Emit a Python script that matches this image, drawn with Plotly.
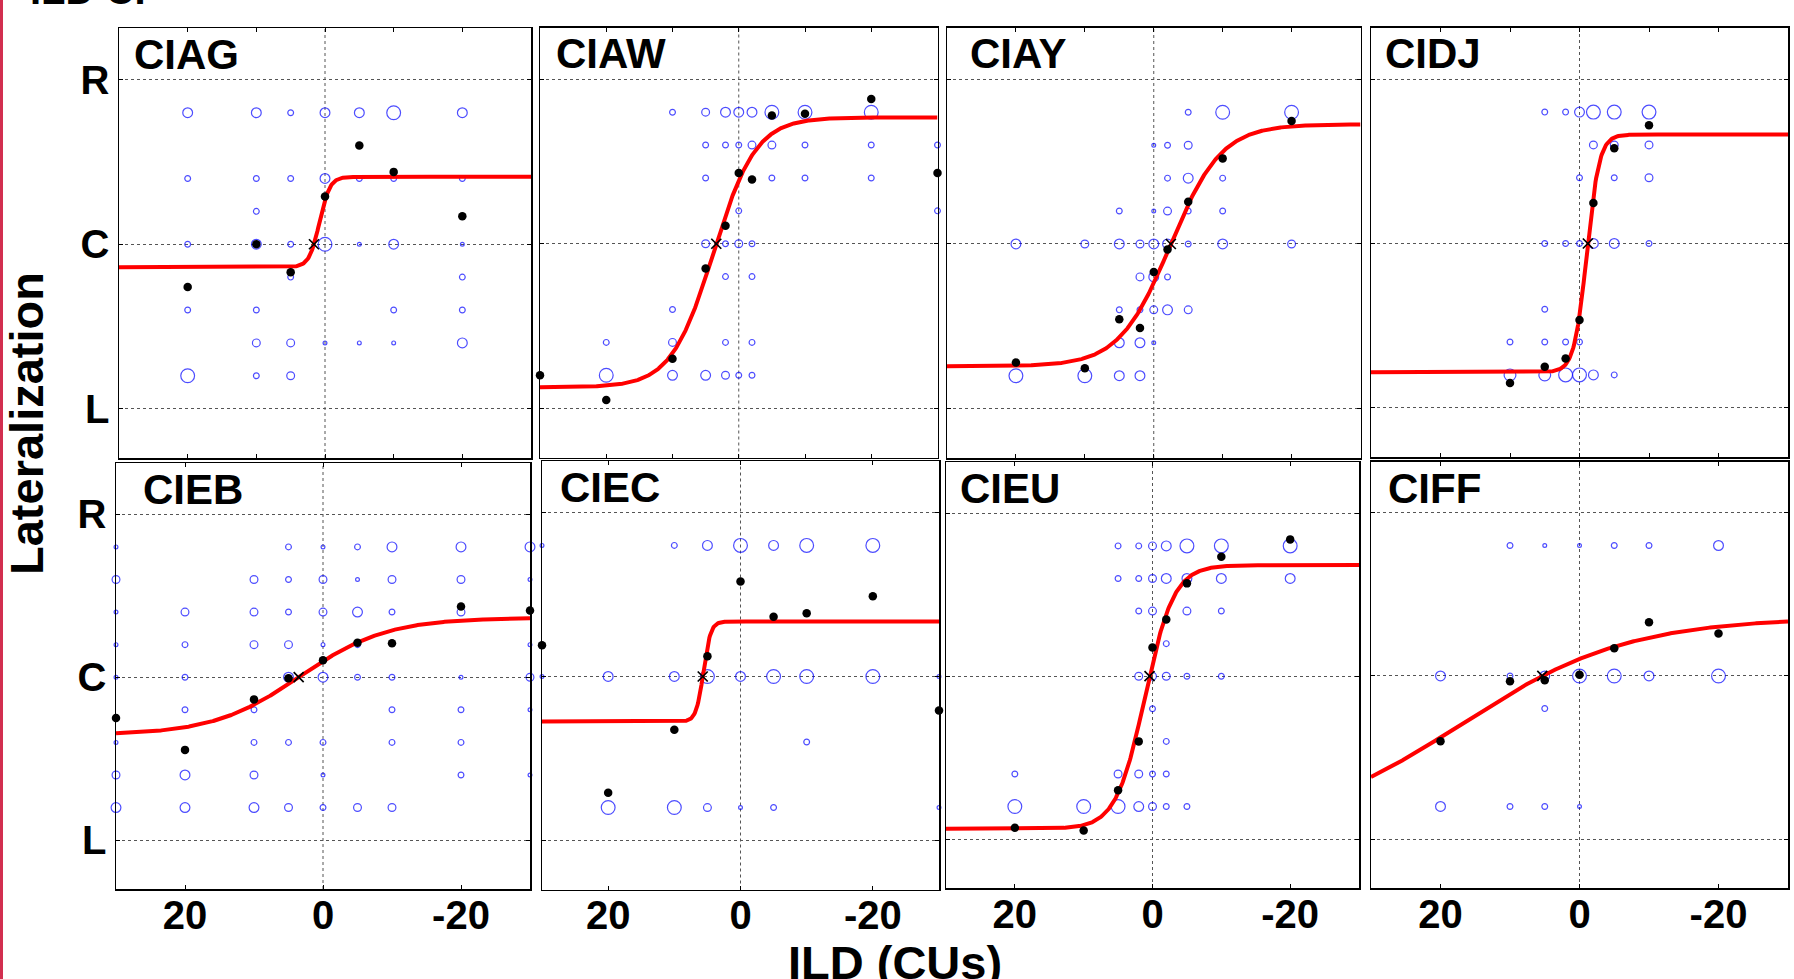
import numpy as np
import plotly.graph_objects as go

# ---------------------------------------------------------------------------
# Lateralization responses vs ILD for eight CI listeners.
# Rings: (response level, ILD in CUs, number of trials at that response)
# Means: mean lateralization response at each ILD
# Fit:   logistic fit (lower asymptote, upper asymptote, midpoint ILD, width)
# ---------------------------------------------------------------------------

CIAG_rings = [
    (0.8, 20, 4), (0.8, 10, 4), (0.8, 5, 2), (0.8, 0, 4), (0.8, -5, 4), (0.8, -10, 6), (0.8, -20, 4),
    (0.4, 20, 2), (0.4, 10, 2), (0.4, 5, 2), (0.4, 0, 4), (0.4, -5, 2), (0.4, -10, 2), (0.4, -20, 2),
    (0.2, 10, 2),
    (0.0, 20, 2), (0.0, 10, 4), (0.0, 5, 2), (0.0, 0, 6), (0.0, -5, 1), (0.0, -10, 4), (0.0, -20, 1),
    (-0.2, 5, 2), (-0.2, -20, 2),
    (-0.4, 20, 2), (-0.4, 10, 2), (-0.4, -10, 2), (-0.4, -20, 2),
    (-0.6, 10, 3), (-0.6, 5, 3), (-0.6, 0, 1), (-0.6, -5, 1), (-0.6, -10, 1), (-0.6, -20, 4),
    (-0.8, 20, 6), (-0.8, 10, 2), (-0.8, 5, 3),
]
CIAG_ild = [20, 10, 5, 0, -5, -10, -20]
CIAG_resp = [-0.26, 0.0, -0.17, 0.29, 0.60, 0.44, 0.17]
CIAG_fit = (-0.14, 0.41, 0.8, 0.75)

CIAW_rings = [
    (0.8, 10, 2), (0.8, 5, 3), (0.8, 2, 4), (0.8, 0, 4), (0.8, -2, 4), (0.8, -5, 6), (0.8, -10, 6), (0.8, -20, 6),
    (0.6, 5, 2), (0.6, 2, 2), (0.6, 0, 2), (0.6, -2, 3), (0.6, -5, 3), (0.6, -10, 2), (0.6, -20, 2), (0.6, -30, 2),
    (0.4, 5, 2), (0.4, -5, 2), (0.4, -10, 2), (0.4, -20, 2),
    (0.2, 0, 2), (0.2, -30, 2),
    (0.0, 5, 3), (0.0, 2, 2), (0.0, 0, 3), (0.0, -2, 2),
    (-0.2, 2, 2), (-0.2, -2, 2),
    (-0.4, 10, 2),
    (-0.6, 20, 2), (-0.6, 10, 3), (-0.6, 2, 2), (-0.6, -2, 2),
    (-0.8, 20, 6), (-0.8, 10, 4), (-0.8, 5, 4), (-0.8, 2, 3), (-0.8, 0, 2), (-0.8, -2, 2),
]
CIAW_ild = [30, 20, 10, 5, 2, 0, -2, -5, -10, -20, -30]
CIAW_resp = [-0.80, -0.95, -0.70, -0.15, 0.11, 0.43, 0.39, 0.78, 0.79, 0.88, 0.43]
CIAW_fit = (-0.873, 0.768, 3.8, 3.2)

CIAY_rings = [
    (0.8, -5, 2), (0.8, -10, 6), (0.8, -20, 6),
    (0.6, 0, 1), (0.6, -2, 2), (0.6, -5, 3),
    (0.4, -2, 2), (0.4, -5, 4), (0.4, -10, 2),
    (0.2, 5, 2), (0.2, 0, 1), (0.2, -2, 3), (0.2, -5, 2), (0.2, -10, 2),
    (0.0, 20, 4), (0.0, 10, 3), (0.0, 5, 4), (0.0, 2, 3), (0.0, 0, 4), (0.0, -2, 4), (0.0, -5, 2),
    (0.0, -10, 4), (0.0, -20, 3),
    (-0.2, 2, 3), (-0.2, 0, 4), (-0.2, -2, 2),
    (-0.4, 5, 2), (-0.4, 2, 2), (-0.4, 0, 3), (-0.4, -2, 4), (-0.4, -5, 3),
    (-0.6, 5, 4), (-0.6, 2, 4), (-0.6, 0, 1),
    (-0.8, 20, 6), (-0.8, 10, 6), (-0.8, 5, 4), (-0.8, 2, 4),
]
CIAY_ild = [20, 10, 5, 2, 0, -2, -5, -10, -20]
CIAY_resp = [-0.72, -0.755, -0.457, -0.51, -0.17, -0.034, 0.256, 0.52, 0.747]
CIAY_fit = (-0.743, 0.727, -2.4, 3.7)

CIDJ_rings = [
    (0.8, 5, 2), (0.8, 2, 2), (0.8, 0, 4), (0.8, -2, 6), (0.8, -5, 6), (0.8, -10, 6),
    (0.6, -2, 3), (0.6, -5, 3), (0.6, -10, 3),
    (0.4, 0, 2), (0.4, -5, 2), (0.4, -10, 3),
    (0.0, 5, 2), (0.0, 2, 2), (0.0, 0, 2), (0.0, -2, 4), (0.0, -5, 4), (0.0, -10, 2),
    (-0.4, 5, 2),
    (-0.6, 10, 2), (-0.6, 5, 2), (-0.6, 2, 2), (-0.6, 0, 2),
    (-0.8, 10, 5), (-0.8, 5, 5), (-0.8, 2, 6), (-0.8, 0, 6), (-0.8, -2, 4), (-0.8, -5, 2),
]
CIDJ_ild = [10, 5, 2, 0, -2, -5, -10]
CIDJ_resp = [-0.85, -0.75, -0.70, -0.466, 0.246, 0.58, 0.72]
CIDJ_fit = (-0.784, 0.663, -1.05, 0.9)

CIEB_rings = [
    (0.8, 30, 1), (0.8, 5, 2), (0.8, 0, 1), (0.8, -5, 2), (0.8, -10, 4), (0.8, -20, 4), (0.8, -30, 4),
    (0.6, 30, 3), (0.6, 10, 3), (0.6, 5, 2), (0.6, 0, 3), (0.6, -5, 1), (0.6, -10, 3), (0.6, -20, 3),
    (0.6, -30, 1),
    (0.4, 30, 1), (0.4, 20, 3), (0.4, 10, 3), (0.4, 5, 2), (0.4, 0, 3), (0.4, -5, 4), (0.4, -10, 2),
    (0.4, -20, 3), (0.4, -30, 1),
    (0.2, 30, 1), (0.2, 20, 2), (0.2, 10, 3), (0.2, 5, 3), (0.2, 0, 1), (0.2, -5, 2), (0.2, -30, 1),
    (0.0, 30, 1), (0.0, 20, 2), (0.0, 5, 4), (0.0, 0, 4), (0.0, -5, 2), (0.0, -10, 2), (0.0, -20, 1),
    (0.0, -30, 3),
    (-0.2, 20, 2), (-0.2, 10, 2), (-0.2, -10, 2), (-0.2, -20, 2), (-0.2, -30, 1),
    (-0.4, 30, 1), (-0.4, 10, 2), (-0.4, 5, 2), (-0.4, 0, 2), (-0.4, -10, 2), (-0.4, -20, 2),
    (-0.6, 30, 3), (-0.6, 20, 4), (-0.6, 10, 3), (-0.6, 0, 1), (-0.6, -20, 2), (-0.6, -30, 1),
    (-0.8, 30, 4), (-0.8, 20, 4), (-0.8, 10, 4), (-0.8, 5, 3), (-0.8, 0, 2), (-0.8, -5, 3), (-0.8, -10, 3),
]
CIEB_ild = [30, 20, 10, 5, 0, -5, -10, -20, -30]
CIEB_resp = [-0.25, -0.446, -0.136, -0.006, 0.104, 0.212, 0.208, 0.434, 0.41]
CIEB_fit = (-0.355, 0.365, 3.35, 6.3)

CIEC_rings = [
    (0.8, 30, 1), (0.8, 10, 2), (0.8, 5, 4), (0.8, 0, 6), (0.8, -5, 4), (0.8, -10, 6), (0.8, -20, 6),
    (0.0, 30, 1), (0.0, 20, 4), (0.0, 10, 4), (0.0, 5, 6), (0.0, 0, 4), (0.0, -5, 6), (0.0, -10, 6),
    (0.0, -20, 6), (0.0, -30, 1),
    (-0.4, -10, 2),
    (-0.8, 20, 6), (-0.8, 10, 6), (-0.8, 5, 3), (-0.8, 0, 1), (-0.8, -5, 2), (-0.8, -30, 1),
]
CIEC_ild = [30, 20, 10, 5, 0, -5, -10, -20, -30]
CIEC_resp = [0.19, -0.71, -0.325, 0.123, 0.58, 0.364, 0.386, 0.49, -0.208]
CIEC_fit = (-0.275, 0.336, 5.6, 0.55)

CIEU_rings = [
    (0.8, 5, 2), (0.8, 2, 2), (0.8, 0, 3), (0.8, -2, 4), (0.8, -5, 6), (0.8, -10, 6), (0.8, -20, 6),
    (0.6, 5, 2), (0.6, 2, 2), (0.6, 0, 3), (0.6, -2, 4), (0.6, -5, 4), (0.6, -10, 4), (0.6, -20, 4),
    (0.4, 2, 2), (0.4, 0, 3), (0.4, -5, 3), (0.4, -10, 2),
    (0.2, -2, 2),
    (0.0, 2, 3), (0.0, 0, 3), (0.0, -2, 3), (0.0, -5, 2), (0.0, -10, 2),
    (-0.2, 0, 2),
    (-0.4, -2, 2),
    (-0.6, 20, 2), (-0.6, 5, 3), (-0.6, 2, 3), (-0.6, 0, 2), (-0.6, -2, 2),
    (-0.8, 20, 6), (-0.8, 10, 6), (-0.8, 5, 6), (-0.8, 2, 4), (-0.8, 0, 3), (-0.8, -2, 2), (-0.8, -5, 2),
]
CIEU_ild = [20, 10, 5, 2, 0, -2, -5, -10, -20]
CIEU_resp = [-0.93, -0.947, -0.70, -0.40, 0.177, 0.348, 0.57, 0.733, 0.84]
CIEU_fit = (-0.937, 0.682, 1.1, 2.1)

CIFF_rings = [
    (0.8, 10, 2), (0.8, 5, 1), (0.8, 0, 1), (0.8, -5, 2), (0.8, -10, 2), (0.8, -20, 4),
    (0.0, 20, 4), (0.0, 10, 2), (0.0, 5, 4), (0.0, 0, 6), (0.0, -5, 6), (0.0, -10, 4), (0.0, -20, 6),
    (-0.2, 5, 2),
    (-0.8, 20, 4), (-0.8, 10, 2), (-0.8, 5, 2), (-0.8, 0, 1),
]
CIFF_ild = [20, 10, 5, 0, -5, -10, -20]
CIFF_resp = [-0.40, -0.033, -0.026, 0.008, 0.17, 0.33, 0.26]
CIFF_fit = (-0.95, 0.36, 17.0, 12.0)

SUBJECTS = ["CIAG", "CIAW", "CIAY", "CIDJ", "CIEB", "CIEC", "CIEU", "CIFF"]
RINGS = [CIAG_rings, CIAW_rings, CIAY_rings, CIDJ_rings, CIEB_rings, CIEC_rings, CIEU_rings, CIFF_rings]
MEAN_ILD = [CIAG_ild, CIAW_ild, CIAY_ild, CIDJ_ild, CIEB_ild, CIEC_ild, CIEU_ild, CIFF_ild]
MEAN_RESP = [CIAG_resp, CIAW_resp, CIAY_resp, CIDJ_resp, CIEB_resp, CIEC_resp, CIEU_resp, CIFF_resp]
FITS = [CIAG_fit, CIAW_fit, CIAY_fit, CIDJ_fit, CIEB_fit, CIEC_fit, CIEU_fit, CIFF_fit]

LAT_TICKS = [-1, 0, 1]
LAT_LABELS = ["L", "C", "R"]
ILD_TICKS_TOP = [20, 10, 0, -10, -20]
ILD_TICKS_BOTTOM = [20, 0, -20]
ILD_LABELS_BOTTOM = ["20", "0", "-20"]

# ---------------------------------------------------------------------------
# Layout geometry (pixels): per-panel frame (left, right, top, bottom)
# and horizontal inset of the subject label
# ---------------------------------------------------------------------------
W, H = 1794, 979
PANEL_BOX = [
    (119.0, 531.0, 28.0, 458.0), (540.0, 937.5, 27.5, 457.5),
    (947.0, 1360.5, 27.5, 458.0), (1371.0, 1788.0, 27.5, 457.0),
    (116.0, 530.0, 463.0, 889.0), (542.0, 939.0, 461.0, 889.5),
    (946.0, 1359.0, 462.0, 888.0), (1371.0, 1788.0, 461.5, 888.0),
]
TITLE_INSET = [15, 16, 23, 14, 27, 18, 14, 17]
X_RANGE = [30, -30]
Y_RANGE = [-1.3, 1.315]

FONT = "Liberation Sans, Arial, Helvetica, sans-serif"
BLUE = "#0000ff"
RED = "#ff0000"


def logistic(x, lo, hi, mid, width):
    return lo + (hi - lo) / (1.0 + np.exp((x - mid) / width))


fig = go.Figure()
layout_axes = {}
shapes = []
annotations = []

for i, name in enumerate(SUBJECTS):
    r, c = divmod(i, 4)
    k = i + 1
    xs_name = "x" if k == 1 else f"x{k}"
    ys_name = "y" if k == 1 else f"y{k}"
    x0, x1, y0, y1 = PANEL_BOX[i]

    rings = RINGS[i]
    ring_resp = [t[0] for t in rings]
    ring_ild = [t[1] for t in rings]
    ring_n = np.array([t[2] for t in rings], dtype=float)

    # trial-count rings
    fig.add_trace(go.Scatter(
        x=ring_ild, y=ring_resp, mode="markers", xaxis=xs_name, yaxis=ys_name,
        marker=dict(symbol="circle-open", size=1.8 + 2.0 * ring_n, color=BLUE,
                    line=dict(width=1.2, color=BLUE)),
        cliponaxis=False, showlegend=False, hoverinfo="skip"))

    # logistic fit
    lo, hi, mid, width = FITS[i]
    xf = np.linspace(X_RANGE[0], X_RANGE[1], 601)
    fig.add_trace(go.Scatter(
        x=xf, y=logistic(xf, lo, hi, mid, width), mode="lines", xaxis=xs_name, yaxis=ys_name,
        line=dict(color=RED, width=4), showlegend=False, hoverinfo="skip"))

    # mean responses
    fig.add_trace(go.Scatter(
        x=MEAN_ILD[i], y=MEAN_RESP[i], mode="markers", xaxis=xs_name, yaxis=ys_name,
        marker=dict(symbol="circle", size=8.5, color="black"),
        cliponaxis=False, showlegend=False, hoverinfo="skip"))

    # centre crossing of the fit
    x_c = mid + width * np.log(-hi / lo)
    fig.add_trace(go.Scatter(
        x=[x_c], y=[0], mode="markers", xaxis=xs_name, yaxis=ys_name,
        marker=dict(symbol="x-thin", size=10, line=dict(width=1.7, color="black")),
        showlegend=False, hoverinfo="skip"))

    bottom = r == 1
    xaxis = dict(
        domain=[x0 / W, x1 / W], range=X_RANGE, anchor=ys_name,
        showgrid=False, zeroline=False,
        showline=True, linecolor="black", linewidth=1.5, mirror="ticks",
        ticks="inside", ticklen=4, tickwidth=1, tickcolor="black",
        tickmode="array",
        tickvals=ILD_TICKS_BOTTOM if bottom else ILD_TICKS_TOP,
        ticktext=[f"<b>{t}</b>" for t in ILD_LABELS_BOTTOM] if bottom else None,
        showticklabels=bottom,
        ticklabelstandoff=-10,
        tickfont=dict(family=FONT, size=40, color="black"),
        fixedrange=True,
    )
    yaxis = dict(
        domain=[1 - y1 / H, 1 - y0 / H], range=Y_RANGE, anchor=xs_name,
        showgrid=True, griddash="dot", gridcolor="#555555", gridwidth=1,
        zeroline=False,
        showline=True, linecolor="black", linewidth=1.5, mirror="ticks",
        ticks="inside", ticklen=4, tickwidth=1, tickcolor="black",
        tickmode="array", tickvals=LAT_TICKS,
        ticktext=[f"<b>{t}</b>" for t in LAT_LABELS],
        showticklabels=(c == 0),
        tickfont=dict(family=FONT, size=40, color="black"),
        fixedrange=True,
    )
    layout_axes["xaxis" if k == 1 else f"xaxis{k}"] = xaxis
    layout_axes["yaxis" if k == 1 else f"yaxis{k}"] = yaxis

    # dotted vertical reference at ILD = 0
    shapes.append(dict(type="line", xref=xs_name, yref=f"{ys_name} domain",
                       x0=0, x1=0, y0=0, y1=1, layer="below",
                       line=dict(color="#555555", width=1, dash="dot")))

    # subject label
    annotations.append(dict(
        text=f"<b>{name}</b>", xref="paper", yref="paper",
        x=(x0 + TITLE_INSET[i] - 2) / W, y=1 - (y0 + 1) / H, xanchor="left", yanchor="top",
        showarrow=False, font=dict(family=FONT, size=42, color="black")))

# shared axis titles
annotations.append(dict(
    text="<b>Lateralization</b>", xref="paper", yref="paper",
    x=26 / W, y=1 - 424 / H, xanchor="center", yanchor="middle", textangle=-90,
    showarrow=False, font=dict(family=FONT, size=47, color="black")))
annotations.append(dict(
    text="<b>ILD (CUs)</b>", xref="paper", yref="paper",
    x=895 / W, y=1 - 962 / H, xanchor="center", yanchor="middle",
    showarrow=False, font=dict(family=FONT, size=47, color="black")))
annotations.append(dict(
    text="<b>ILD CI</b>", xref="paper", yref="paper",
    x=28 / W, y=1 - 14 / H, xanchor="left", yanchor="bottom",
    showarrow=False, font=dict(family=FONT, size=40, color="black")))

# accent rule on the left edge
shapes.append(dict(type="line", xref="paper", yref="paper", x0=1.5 / W, x1=1.5 / W,
                   y0=0, y1=1, line=dict(color="#d22e4f", width=3)))

fig.update_layout(
    width=W, height=H, autosize=False,
    margin=dict(l=0, r=0, t=0, b=0, pad=0),
    paper_bgcolor="white", plot_bgcolor="white",
    showlegend=False, shapes=shapes, annotations=annotations,
    **layout_axes,
)

fig.write_html("out.html", config={"displayModeBar": False, "staticPlot": True},
               post_script="document.body.style.margin='0';")
